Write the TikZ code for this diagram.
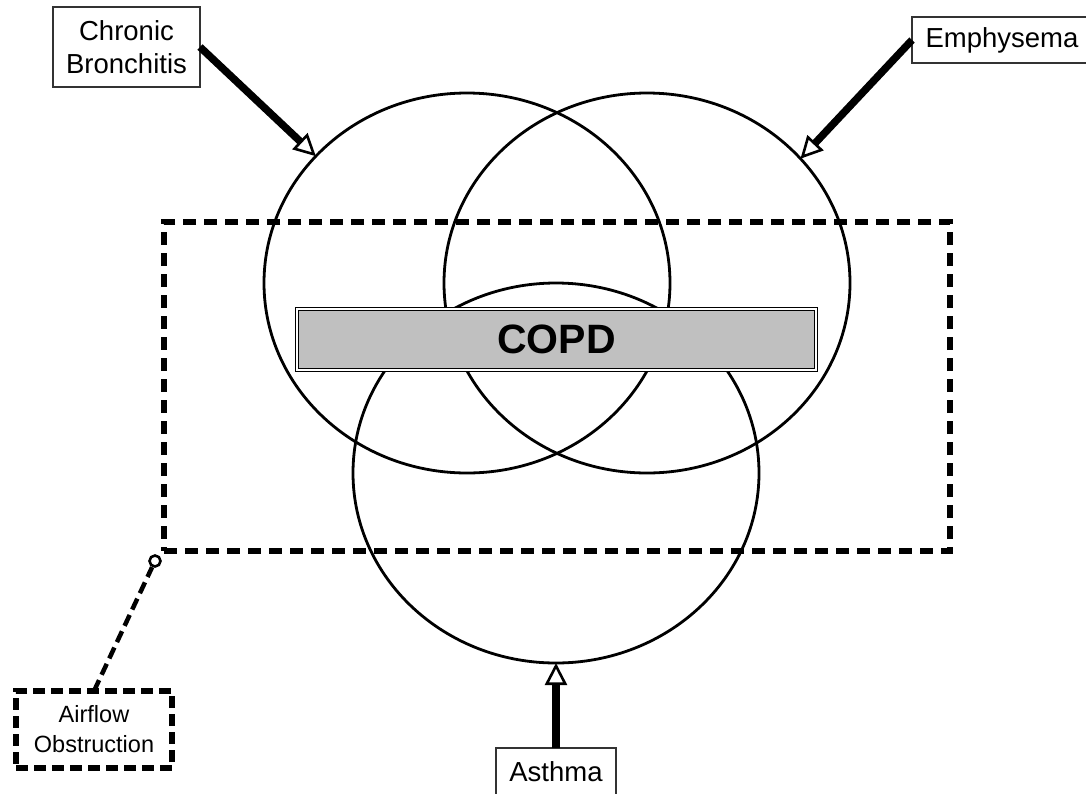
\documentclass[tikz,border=0pt]{standalone}
\usepackage{fontspec}
\setmainfont{Liberation Sans}
\usetikzlibrary{arrows.meta,shapes.geometric}
\definecolor{copdgray}{RGB}{192,192,192}
\begin{document}
\begin{tikzpicture}[x=1pt,y=-1pt,
  venn/.style={ellipse, draw, line width=2.8pt, minimum width=406pt, minimum height=380pt, inner sep=0pt, outer sep=0pt},
  lbox/.style={draw=black!80, line width=1.4pt, fill=white, font=\fontsize{27.5}{33}\selectfont, align=center, inner sep=0pt, outer sep=0pt},
  bigarrow/.style={line width=7.5pt, -{Triangle[fill=white, length=22pt, width=22pt, line width=2.6pt]}},
  thickdash/.style={line width=5.5pt, dash pattern=on 13pt off 8pt},
]
\useasboundingbox (0,0) rectangle (1086,793);
% airflow obstruction region
\node[draw, thickdash, minimum width=786pt, minimum height=329pt, inner sep=0pt, outer sep=0pt] (obs) at (557,386.5) {};
% Venn ellipses
\node[venn] (c1) at (467,283) {};
\node[venn] (c2) at (647,283) {};
\node[venn] (c3) at (556,473) {};
% COPD bar
\node[draw, double, double distance=1.5pt, line width=1.3pt, fill=copdgray, minimum width=519pt, minimum height=61pt, inner sep=0pt, font=\bfseries\fontsize{41}{41}\selectfont] (copd) at (556.5,339.5) {COPD};
% labels
\node[lbox, minimum width=147pt, minimum height=80pt] (cb) at (126.5,47) {Chronic\\Bronchitis};
\node[lbox, minimum width=180pt, minimum height=46pt] (em) at (1002,40) {Emphysema};
\node[lbox, minimum width=120pt, minimum height=48pt] (as) at (556,772) {Asthma};
\node[lbox, draw=black, line width=5.5pt, dash pattern=on 12pt off 6pt, minimum width=156pt, minimum height=77pt, font=\fontsize{23.5}{30}\selectfont] (af) at (94,729.5) {Airflow\\Obstruction};
\node[circle, draw, line width=2.6pt, minimum size=11pt, inner sep=0pt, fill=white] (sc) at (155,561) {};
% connectors
\draw[bigarrow] (cb.east) -- (c1.140.3);
\draw[bigarrow] (em.west) -- (c2.39.8);
\draw[bigarrow] (as.north) -- (c3.south);
\draw[line width=4.5pt, dash pattern=on 12pt off 6pt] (af.north) -- (sc);
\end{tikzpicture}
\end{document}
